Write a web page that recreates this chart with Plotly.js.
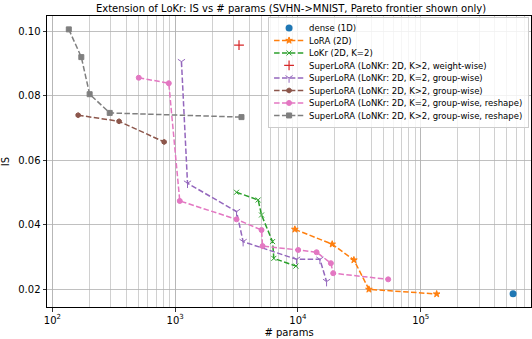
<!DOCTYPE html>
<html>
<head>
<meta charset="utf-8">
<script src="https://cdn.plot.ly/plotly-3.0.1.min.js"></script>
<style>html,body{margin:0;padding:0;background:#fff;}#chart{width:532px;height:339px;}</style>
</head>
<body>
<div id="chart"></div>
<script>
// ---- data ----
const denseX = [565000];
const denseY = [0.0185];

const loraX = [9435, 19000, 28550, 37840, 134800];
const loraY = [0.0385, 0.0339, 0.0290, 0.0199, 0.01845];

const lokrX = [3160, 4740, 5050, 6210, 6360, 9620];
const lokrY = [0.0500, 0.0476, 0.04295, 0.0347, 0.0295, 0.0271];

const wwX = [3310];
const wwY = [0.0956];

const gwK2X = [1125, 1260, 3160, 3575, 9740, 15090, 17100];
const gwK2Y = [0.0905, 0.0528, 0.0440, 0.0347, 0.0292, 0.0292, 0.0223];

const gwKgX = [162, 349, 813];
const gwKgY = [0.0739, 0.0720, 0.0656];

const gwK2rX = [505, 887, 1090, 3160, 5050, 5150, 10040, 14180, 18540, 19360, 54300];
const gwK2rY = [0.0855, 0.0838, 0.0473, 0.0416, 0.0383, 0.0333, 0.0321, 0.0314, 0.0280, 0.0249, 0.0230];

const gwKgrX = [136, 172, 201, 293, 3467];
const gwKgrY = [0.1005, 0.0919, 0.0804, 0.0746, 0.0733];

const names = [
  'dense (1D)',
  'LoRA (2D)',
  'LoKr (2D, K=2)',
  'SuperLoRA (LoNKr: 2D, K>2, weight-wise)',
  'SuperLoRA (LoNKr: 2D, K=2, group-wise)',
  'SuperLoRA (LoNKr: 2D, K>2, group-wise)',
  'SuperLoRA (LoNKr: 2D, K=2, group-wise, reshape)',
  'SuperLoRA (LoNKr: 2D, K>2, group-wise, reshape)'
];
const xTickVals = [100, 1000, 10000, 100000];
const xTickText = ['10<sup>2</sup>', '10<sup>3</sup>', '10<sup>4</sup>', '10<sup>5</sup>'];
const yTickVals = [0.02, 0.04, 0.06, 0.08, 0.10];
const yTickText = ['0.02', '0.04', '0.06', '0.08', '0.10'];

// ---- styling ----
const dash = '5.5px,2.4px';
function lineTrace(x, y, name, color, symbol, size) {
  return {
    x: x, y: y, name: name, type: 'scatter', mode: 'lines+markers',
    line: {color: color, width: 1.5, dash: dash},
    marker: {color: color, symbol: symbol, size: size, line: {color: color, width: 1}}
  };
}
const data = [
  {x: denseX, y: denseY, name: names[0], type: 'scatter', mode: 'markers',
   marker: {color: '#1f77b4', symbol: 'circle', size: 7}},
  lineTrace(loraX, loraY, names[1], '#ff7f0e', 'star', 5),
  lineTrace(lokrX, lokrY, names[2], '#2ca02c', 'x-thin-open', 5),
  {x: wwX, y: wwY, name: names[3], type: 'scatter', mode: 'markers',
   marker: {color: '#d62728', symbol: 'cross-thin-open', size: 7, line: {color: '#d62728', width: 1.2}}},
  lineTrace(gwK2X, gwK2Y, names[4], '#9467bd', 'y-down-open', 6),
  lineTrace(gwKgX, gwKgY, names[5], '#8c564b', 'hexagon', 5),
  lineTrace(gwK2rX, gwK2rY, names[6], '#e377c2', 'circle', 5),
  lineTrace(gwKgrX, gwKgrY, names[7], '#7f7f7f', 'square', 5)
];

const font = {family: 'DejaVu Sans', size: 10, color: '#000'};
const layout = {
  width: 532, height: 339,
  margin: {l: 47, r: 1, t: 16, b: 32, pad: 0},
  paper_bgcolor: '#fff', plot_bgcolor: '#fff',
  font: font,
  title: {text: 'Extension of LoKr: IS vs # params (SVHN->MNIST, Pareto frontier shown only)',
          font: {family: 'DejaVu Sans', size: 10, color: '#000'},
          x: 0.547, xanchor: 'center', y: 0.976, yanchor: 'middle'},
  xaxis: {
    type: 'log', range: [1.956, 5.898],
    tickvals: xTickVals, ticktext: xTickText,
    ticks: 'outside', ticklen: 3.5, tickcolor: '#000', tickwidth: 0.8,
    showline: true, mirror: true, linecolor: '#000', linewidth: 1,
    showgrid: true, gridcolor: '#b0b0b0', gridwidth: 0.8,
    minor: {dtick: 'D1', showgrid: true, gridcolor: '#c4c4c4', gridwidth: 0.8, ticks: ''},
    zeroline: false,
    title: {text: '# params', font: font, standoff: 4},
    tickfont: font
  },
  yaxis: {
    range: [0.01442, 0.10465],
    tickvals: yTickVals, ticktext: yTickText,
    ticks: 'outside', ticklen: 3.5, tickcolor: '#000', tickwidth: 0.8,
    showline: true, mirror: true, linecolor: '#000', linewidth: 1,
    showgrid: true, gridcolor: '#b0b0b0', gridwidth: 0.8,
    zeroline: false,
    title: {text: 'IS', font: font, standoff: 6},
    tickfont: font
  },
  showlegend: true,
  legend: {
    x: 0.996, xanchor: 'right', y: 0.995, yanchor: 'top',
    bgcolor: 'rgba(255,255,255,0.8)', bordercolor: '#cccccc', borderwidth: 1,
    font: {family: 'DejaVu Sans', size: 8.5, color: '#000'},
    tracegroupgap: 0, itemwidth: 30
  }
};
Plotly.newPlot('chart', data, layout, {displayModeBar: false, staticPlot: true}).then(function (gd) {
  // compact the legend rows to the reference's row spacing
  const leg = gd.querySelector('.legend');
  if (!leg) return;
  const traces = leg.querySelectorAll('.traces');
  const step = 12.5;
  let firstY = null;
  traces.forEach(function (t, i) {
    const m = /translate\(\s*([-\d.e]+)[\s,]+([-\d.e]+)\s*\)/.exec(t.getAttribute('transform') || '');
    if (!m) return;
    const tx = parseFloat(m[1]);
    const ty = parseFloat(m[2]);
    if (firstY === null) firstY = ty - 5;
    t.setAttribute('transform', 'translate(' + tx + ',' + (firstY + i * step) + ')');
  });
  if (firstY !== null) {
    const newH = firstY + (traces.length - 1) * step + 12;
    leg.querySelectorAll('rect.bg').forEach(function (r) { r.setAttribute('height', newH); });
    leg.querySelectorAll('clipPath rect').forEach(function (r) { r.setAttribute('height', newH); });
  }
});
</script>
</body>
</html>
